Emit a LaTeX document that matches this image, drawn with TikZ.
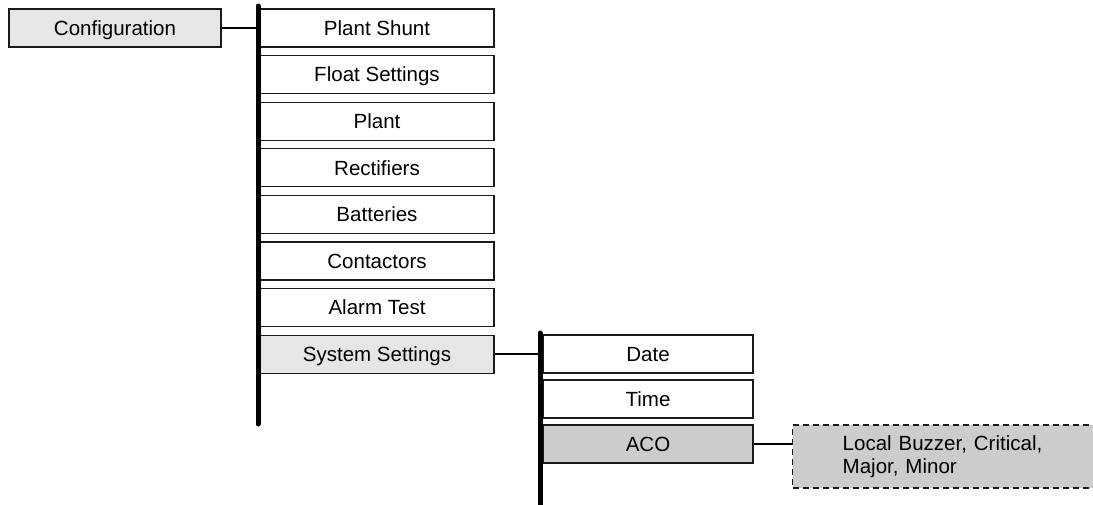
\documentclass[tikz,border=0pt]{standalone}
\usepackage{fontspec}
\setmainfont{Liberation Sans}
\usetikzlibrary{positioning}
\definecolor{cfgLine}{HTML}{1A1A1A}
\definecolor{cfgSel}{HTML}{E6E6E6}
\definecolor{cfgAct}{HTML}{CCCCCC}
\tikzset{
  menubox/.style={
    draw=cfgLine, line width=1pt, fill=white, minimum height=28.5pt,
    inner sep=0pt, text height=11pt, text depth=0pt,
    font=\fontsize{15.4}{18}\selectfont
  },
  mainbox/.style={menubox, minimum width=175.5pt},
  subbox/.style={menubox, minimum width=157.5pt},
  selbox/.style={fill=cfgSel},
  actbox/.style={fill=cfgAct},
  optbox/.style={
    draw=cfgLine, line width=1pt, fill=cfgAct, dash pattern=on 4.5pt off 3pt,
    minimum height=47.25pt, text width=200pt, inner xsep=37.5pt, inner ysep=0pt,
    align=left, anchor=west, font=\fontsize{15.4}{17.25}\selectfont
  },
  bus/.style={line width=3.75pt, line cap=round, black},
  link/.style={line width=1.1pt, black}
}
\begin{document}
\begin{tikzpicture}[x=0.75pt, y=-0.75pt, node distance=5.45pt]
  \useasboundingbox (0,0) rectangle (1093,504);
  % top level
  \node[menubox, selbox, minimum width=159pt] (cfg) at (115,28) {Configuration};
  % configuration menu
  \node[mainbox] (shunt) at (377,28) {Plant Shunt};
  \node[mainbox, below=of shunt] (float) {Float Settings};
  \node[mainbox, below=of float] (plant) {Plant};
  \node[mainbox, below=of plant] (rect) {Rectifiers};
  \node[mainbox, below=of rect] (batt) {Batteries};
  \node[mainbox, below=of batt] (cont) {Contactors};
  \node[mainbox, below=of cont] (alarm) {Alarm Test};
  \node[mainbox, selbox, below=of alarm] (sys) {System Settings};
  % system settings menu
  \node[subbox] (date) at (648,354) {Date};
  \node[subbox, below=4.25pt of date] (time) {Time};
  \node[subbox, actbox, below=4.25pt of time] (aco) {ACO};
  \node[optbox] (acoopt) at (792,456.5) {Local Buzzer, Critical,\\Major, Minor};
  % buses
  \coordinate (bus1top) at (258,6);
  \coordinate (bus1bot) at (258,424);
  \coordinate (bus2top) at (540,333);
  \coordinate (bus2bot) at (540,512);
  \draw[bus] (bus1top) -- (bus1bot);
  \draw[bus] (bus2top) -- (bus2bot);
  \draw[link] (cfg.east) -- (cfg.east -| bus1top);
  \draw[link] (sys.east) -- (sys.east -| bus2top);
  \draw[link] (aco.east) -- (aco.east -| acoopt.west);
\end{tikzpicture}
\end{document}
